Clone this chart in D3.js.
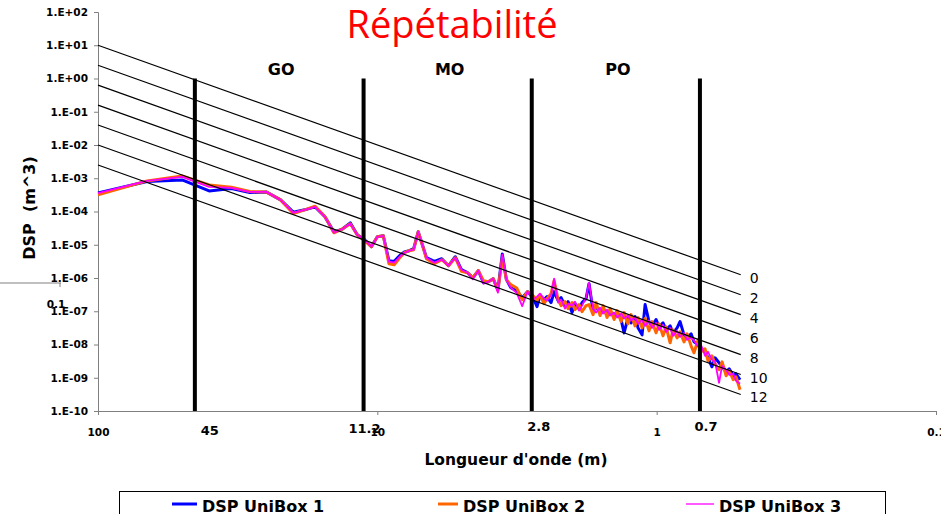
<!DOCTYPE html>
<html>
<head>
<meta charset="utf-8">
<script src="https://cdn.jsdelivr.net/npm/d3@7"></script>
<style>
  body { margin: 0; background: #fff; }
  text { font-family: "DejaVu Sans", sans-serif; }
</style>
</head>
<body>
<div id="chart"></div>
<script>
var width = 941,
    height = 514;

// wavelength (m) of each DSP sample
var wavelength = [100, 66.7, 50, 40, 33.3, 28.6, 25, 22.2, 20, 18.2,
    16.7, 15.4, 14.3, 13.3, 12.5, 11.8, 11.1, 10.5, 10, 9.52,
    9.09, 8.70, 8.33, 8.00, 7.69, 7.41, 7.14, 6.90, 6.67,
    6.25, 5.88, 5.56, 5.26, 5.00, 4.76, 4.55, 4.35, 4.17, 4.00,
    3.85, 3.70, 3.57, 3.45, 3.33, 3.17, 3.03, 2.90,
    2.770, 2.681, 2.616, 2.531, 2.469, 2.388, 2.329, 2.254, 2.199, 2.128,
    2.076, 2.009, 1.960, 1.896, 1.850, 1.790, 1.746, 1.689, 1.648, 1.594,
    1.556, 1.505, 1.468, 1.420, 1.386, 1.341, 1.308, 1.266, 1.235, 1.195,
    1.166, 1.128, 1.100, 1.065, 1.039, 1.005, 0.980, 0.949, 0.925, 0.895,
    0.874, 0.845, 0.825, 0.798, 0.778, 0.753, 0.735, 0.711, 0.694, 0.671,
    0.655, 0.634, 0.618, 0.598, 0.583, 0.564, 0.550, 0.532, 0.520, 0.503];

// log10 of DSP (m^3), one list per box
var dspBox1 = [-3.44, -3.10, -3.05, -3.38, -3.31, -3.43, -3.41, -3.65, -4.02, -3.95,
    -3.86, -4.16, -4.62, -4.52, -4.34, -4.70, -4.85, -5.06, -4.76, -4.73,
    -5.48, -5.50, -5.33, -5.22, -5.18, -5.12, -4.61, -5.00, -5.39,
    -5.50, -5.42, -5.63, -5.36, -5.75, -5.84, -5.99, -5.78, -6.14, -6.11,
    -6.02, -6.35, -5.28, -6.05, -6.29, -6.38, -6.60, -6.41,
    -6.59, -6.86, -6.53, -6.65, -6.56, -6.74, -6.41, -6.68, -6.59, -6.83,
    -6.71, -7.04, -6.77, -6.92, -6.74, -6.62, -6.17, -7.01, -6.86, -7.04,
    -6.92, -7.10, -6.98, -7.19, -7.01, -7.25, -7.65, -7.19, -7.35, -7.16,
    -7.50, -7.71, -6.80, -7.31, -7.44, -7.25, -7.47, -7.35, -7.56, -7.44,
    -7.65, -7.50, -7.31, -7.71, -7.80, -7.68, -7.92, -8.01, -8.10, -8.22,
    -8.40, -8.67, -8.40, -8.55, -8.67, -8.82, -8.73, -8.94, -8.88, -9.06];

var dspBox2 = [-3.50, -3.08, -2.93, -3.20, -3.27, -3.40, -3.41, -3.65, -4.06, -3.95,
    -3.84, -4.16, -4.64, -4.52, -4.37, -4.70, -4.88, -5.06, -4.76, -4.73,
    -5.57, -5.60, -5.40, -5.24, -5.18, -5.15, -4.61, -5.00, -5.42,
    -5.57, -5.45, -5.63, -5.39, -5.80, -5.84, -5.99, -5.78, -6.08, -6.11,
    -6.02, -6.38, -5.40, -6.05, -6.20, -6.30, -6.65, -6.41,
    -6.53, -6.68, -6.50, -6.77, -6.62, -6.47, -6.08, -6.65, -6.83, -6.71,
    -6.92, -6.74, -6.95, -6.80, -7.01, -6.83, -6.80, -7.10, -6.74, -7.13,
    -6.83, -7.19, -6.92, -7.25, -6.98, -7.31, -7.04, -7.38, -7.10, -7.44,
    -7.19, -7.50, -7.22, -7.59, -7.31, -7.65, -7.38, -7.74, -7.47, -7.95,
    -7.56, -7.80, -7.62, -7.92, -7.68, -8.04, -8.25, -7.86, -8.22, -8.13,
    -8.49, -8.34, -8.58, -8.76, -8.52, -8.94, -8.79, -9.06, -8.97, -9.36];

var dspBox3 = [-3.45, -3.08, -2.96, -3.26, -3.29, -3.41, -3.41, -3.65, -4.04, -3.95,
    -3.86, -4.16, -4.64, -4.52, -4.37, -4.70, -4.85, -5.06, -4.76, -4.73,
    -5.51, -5.54, -5.37, -5.24, -5.18, -5.15, -4.61, -5.00, -5.39,
    -5.54, -5.45, -5.63, -5.39, -5.75, -5.84, -6.04, -5.78, -6.17, -6.11,
    -6.02, -6.44, -5.30, -6.05, -6.29, -6.45, -6.85, -6.41,
    -6.65, -6.56, -6.47, -6.62, -6.68, -6.53, -6.02, -6.74, -6.65, -6.92,
    -6.77, -6.83, -6.71, -6.98, -6.83, -6.59, -6.14, -6.92, -7.04, -6.89,
    -7.07, -6.95, -7.13, -7.04, -7.19, -7.07, -7.22, -7.13, -7.28, -7.19,
    -7.38, -7.25, -7.44, -7.28, -7.50, -7.35, -7.56, -7.41, -7.62, -7.50,
    -7.74, -7.59, -7.77, -7.65, -7.86, -7.77, -7.89, -8.07, -8.01, -8.34,
    -8.22, -8.46, -8.52, -9.15, -8.64, -8.76, -8.91, -8.88, -9.09, -9.18];

var seriesNames = ['DSP UniBox 1', 'DSP UniBox 2', 'DSP UniBox 3'];

// class lines 0..12 : DSP at 100 m and at 0.5 m
var classes = ['0', '2', '4', '6', '8', '10', '12'];
var classStart = [10, 2.51, 0.631, 0.158, 0.0398, 0.01, 0.00251];
var classEnd = [1.25e-6, 3.14e-7, 7.89e-8, 1.98e-8, 4.98e-9, 1.25e-9, 3.14e-10];
var classRange = [100, 0.5];

// wavelength bands
var bounds = [45, 11.2, 2.8, 0.7];
var boundLabels = ['45', '11.2', '2.8', '0.7'];
var zones = ['GO', 'MO', 'PO'];

var xTicks = [100, 10, 1, 0.1];
var yTicks = [1e2, 1e1, 1e0, 1e-1, 1e-2, 1e-3, 1e-4, 1e-5, 1e-6, 1e-7, 1e-8, 1e-9, 1e-10];

var colors = ['#0000ff', '#ff6600', '#ff00ff'];
var widths = [3, 3, 1.8];

var svg = d3.select('#chart')
    .append('svg')
    .attr('width', width)
    .attr('height', height);

var x = d3.scaleLog().domain([100, 0.1]).range([98, 936]);
var y = d3.scaleLog().domain([1e-10, 1e2]).range([411, 12]);

// stray secondary axis stub on the left
svg.append('line')
    .attr('x1', 0).attr('x2', 61)
    .attr('y1', 283).attr('y2', 283)
    .attr('stroke', '#808080');
svg.append('line')
    .attr('x1', 60).attr('x2', 60)
    .attr('y1', 283).attr('y2', 287)
    .attr('stroke', '#808080');

// axes
var yAxis = svg.append('g')
    .attr('transform', 'translate(98,0)')
    .call(d3.axisLeft(y)
        .tickValues(yTicks)
        .tickSize(4)
        .tickPadding(6)
        .tickFormat(d => {
            var e = Math.round(Math.log10(d));
            return '1.E' + (e < 0 ? '-' : '+') + String(Math.abs(e)).padStart(2, '0');
        }));

var xAxis = svg.append('g')
    .attr('transform', 'translate(0,411)')
    .call(d3.axisBottom(x)
        .tickValues(xTicks)
        .tickSize(4)
        .tickFormat(d3.format('~g')));

xAxis.selectAll('text').attr('y', 25).attr('dy', null);

svg.selectAll('.domain, .tick line').attr('stroke', '#808080');
svg.selectAll('.tick text')
    .attr('fill', '#000')
    .style('font-family', '"DejaVu Sans", sans-serif')
    .style('font-weight', 'bold')
    .style('font-size', '10.5px');

svg.append('text')
    .attr('x', 56).attr('y', 308)
    .attr('text-anchor', 'middle')
    .style('font-weight', 'bold')
    .style('font-size', '10.5px')
    .text('0.1');

// data series
var line = d3.line()
    .x((d, i) => x(wavelength[i]))
    .y(d => y(Math.pow(10, d)));

[dspBox1, dspBox2, dspBox3].forEach((s, i) => {
    svg.append('path')
        .datum(s)
        .attr('fill', 'none')
        .attr('stroke', colors[i])
        .attr('stroke-width', widths[i])
        .attr('stroke-linejoin', 'round')
        .attr('d', line);
});

// class lines
svg.selectAll('.class-line')
    .data(classes)
    .enter()
    .append('line')
    .attr('class', 'class-line')
    .attr('x1', x(classRange[0]))
    .attr('x2', x(classRange[1]))
    .attr('y1', (d, i) => y(classStart[i]))
    .attr('y2', (d, i) => y(classEnd[i]))
    .attr('stroke', '#000')
    .attr('stroke-width', 1.2);

svg.selectAll('.class-label')
    .data(classes)
    .enter()
    .append('text')
    .attr('class', 'class-label')
    .attr('x', x(classRange[1]) + 9)
    .attr('y', (d, i) => y(classEnd[i]) + 8)
    .style('font-size', '14px')
    .text(d => d);

// band limits
svg.selectAll('.bound')
    .data(bounds)
    .enter()
    .append('line')
    .attr('class', 'bound')
    .attr('x1', d => x(d))
    .attr('x2', d => x(d))
    .attr('y1', y(1))
    .attr('y2', y(1e-10))
    .attr('stroke', '#000')
    .attr('stroke-width', 4);

var boundDx = [15, 1, 7, 6],
    boundY = [435, 433, 431, 431];

svg.selectAll('.bound-label')
    .data(boundLabels)
    .enter()
    .append('text')
    .attr('class', 'bound-label')
    .attr('x', (d, i) => x(bounds[i]) + boundDx[i])
    .attr('y', (d, i) => boundY[i])
    .attr('text-anchor', 'middle')
    .style('font-weight', 'bold')
    .style('font-size', '13px')
    .text(d => d);

svg.selectAll('.zone')
    .data(zones)
    .enter()
    .append('text')
    .attr('class', 'zone')
    .attr('x', (d, i) => x(Math.sqrt(bounds[i] * bounds[i + 1])) + 2)
    .attr('y', 75)
    .attr('text-anchor', 'middle')
    .style('font-weight', 'bold')
    .style('font-size', '16px')
    .text(d => d);

// titles
svg.append('text')
    .attr('x', 452).attr('y', 38)
    .attr('text-anchor', 'middle')
    .attr('fill', '#ff0000')
    .style('font-family', '"Open Sans", sans-serif')
    .style('font-size', '38px')
    .text('Répétabilité');

svg.append('text')
    .attr('x', 516).attr('y', 465)
    .attr('text-anchor', 'middle')
    .style('font-weight', 'bold')
    .style('font-size', '15.5px')
    .text("Longueur d'onde (m)");

svg.append('text')
    .attr('transform', 'translate(35,208) rotate(-90)')
    .attr('text-anchor', 'middle')
    .style('font-weight', 'bold')
    .style('font-size', '16px')
    .style('white-space', 'pre')
    .text('DSP  (m^3)');

// legend
svg.append('rect')
    .attr('x', 119.5).attr('y', 491.5)
    .attr('width', 766).attr('height', 40)
    .attr('fill', '#fff')
    .attr('stroke', '#000');

var legendX = [172, 438, 686],
    legendLen = [25, 20, 28];

seriesNames.forEach((name, i) => {
    svg.append('line')
        .attr('x1', legendX[i]).attr('x2', legendX[i] + legendLen[i])
        .attr('y1', 504).attr('y2', 504)
        .attr('stroke', colors[i])
        .attr('stroke-width', i === 2 ? 1.3 : 3);
    svg.append('text')
        .attr('x', legendX[i] + legendLen[i] + 5)
        .attr('y', 512)
        .style('font-weight', 'bold')
        .style('font-size', '16px')
        .text(name);
});
</script>
</body>
</html>
